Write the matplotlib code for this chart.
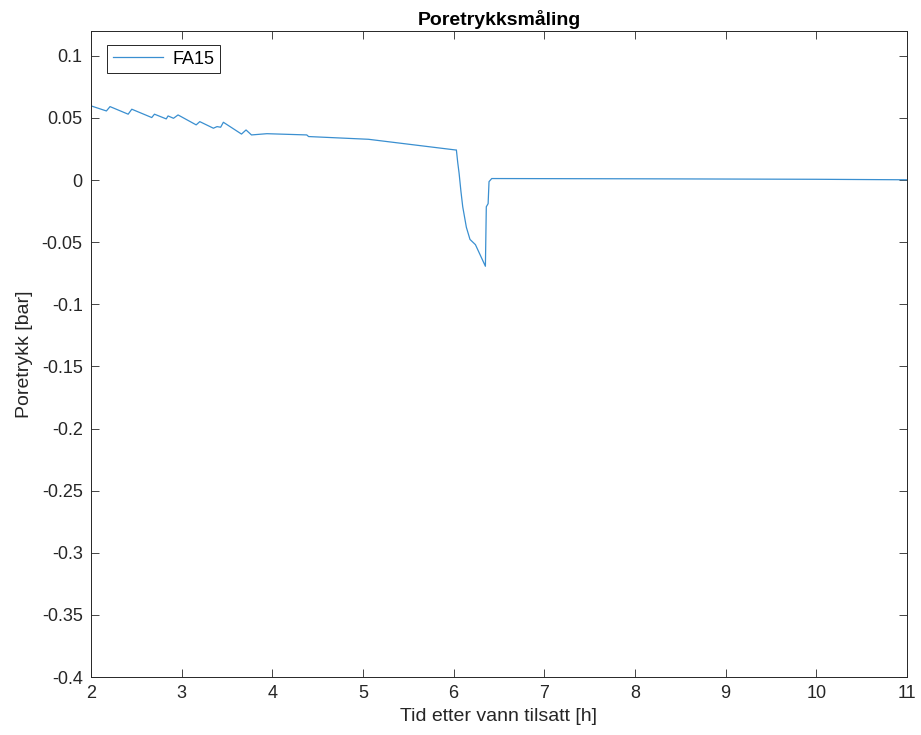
import matplotlib
matplotlib.use('Agg')
import matplotlib.pyplot as plt

# poretrykk FA15, tid i timer etter vann tilsatt
tid = [2.00, 2.17, 2.21, 2.41, 2.45, 2.67, 2.70, 2.83, 2.85, 2.91, 2.96,
       3.16, 3.20, 3.35, 3.39, 3.43, 3.46, 3.66, 3.71, 3.77, 3.94, 4.38,
       4.40, 5.06, 6.02, 6.03, 6.045, 6.06, 6.08, 6.10, 6.14, 6.18, 6.24,
       6.35, 6.36, 6.38, 6.39, 6.42, 8.00, 10.00, 11.00]
trykk = [0.0597, 0.0556, 0.0591, 0.0530, 0.0570, 0.0503, 0.0530, 0.0492,
         0.0516, 0.0497, 0.0524, 0.0444, 0.0470, 0.0417, 0.0430, 0.0425,
         0.0465, 0.0370, 0.0403, 0.0363, 0.0373, 0.0363, 0.0350, 0.0328,
         0.0242, 0.0242, 0.0140, 0.0054, -0.0090, -0.0215, -0.0380, -0.0478,
         -0.0520, -0.0694, -0.0215, -0.0190, -0.0013, 0.0012, 0.0010,
         0.0006, 0.0002]

xticks = list(range(2, 12))
yticks = [0.1, 0.05, 0, -0.05, -0.1, -0.15, -0.2, -0.25, -0.3, -0.35, -0.4]

plt.rcParams['font.family'] = ['Liberation Sans', 'DejaVu Sans']
axfarge = '#262626'

fig = plt.figure(figsize=(9.21, 7.35), dpi=100)
ax = fig.add_axes([0.0988, 0.0789, 0.886, 0.879])
ax.plot(tid, trykk, color='#3a8fd0', lw=0.9, label='FA15')

ax.set_xlim(2, 11)
ax.set_ylim(-0.4, 0.12)
ax.set_xticks(xticks)
ax.set_xticklabels([str(t) for t in xticks])
ax.set_yticks(yticks)
ax.set_yticklabels(['%g' % v for v in yticks])
ax.tick_params(direction='in', length=6, width=0.6, colors=axfarge,
               labelsize=13, top=True, right=True, pad=6)
for s in ax.spines.values():
    s.set_color(axfarge)
    s.set_linewidth(0.7)

ax.set_title('Poretrykksmåling', fontsize=14, fontweight='bold', pad=4)
ax.set_xlabel('Tid etter vann tilsatt [h]', fontsize=14, color=axfarge, labelpad=4)
ax.set_ylabel('Poretrykk [bar]', fontsize=14, color=axfarge, labelpad=6)

leg = ax.legend(loc='upper left', fontsize=13, fancybox=False, framealpha=1,
                handlelength=2.8, handletextpad=0.5, borderpad=0.3,
                borderaxespad=0, bbox_to_anchor=(0.02, 0.978))
leg.get_frame().set_edgecolor(axfarge)
leg.get_frame().set_linewidth(0.7)

fig.savefig('out.png', dpi=100)
